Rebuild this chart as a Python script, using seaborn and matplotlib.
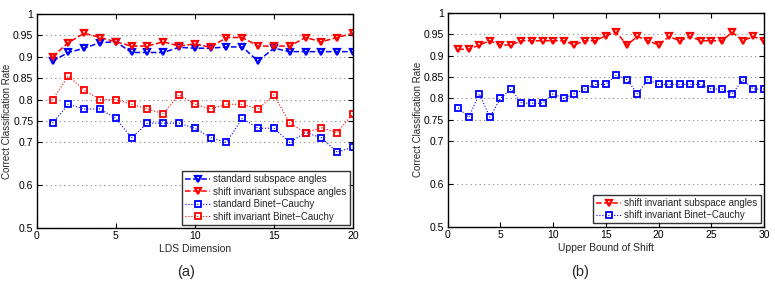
import numpy as np
import pandas as pd
import seaborn as sns
import matplotlib
matplotlib.use("Agg")
import matplotlib.pyplot as plt

# (a) classification rate vs. LDS dimension
lds_dim = list(range(1, 21))
std_angles = [0.89, 0.91, 0.92, 0.933, 0.935, 0.91, 0.91, 0.91, 0.922, 0.92,
              0.92, 0.923, 0.923, 0.89, 0.92, 0.912, 0.912, 0.912, 0.912, 0.912]
si_angles = [0.90, 0.933, 0.955, 0.945, 0.935, 0.925, 0.925, 0.935, 0.925, 0.93,
             0.922, 0.945, 0.945, 0.925, 0.925, 0.925, 0.945, 0.935, 0.945, 0.955]
std_bc = [0.745, 0.789, 0.778, 0.778, 0.756, 0.711, 0.745, 0.745, 0.745, 0.733,
          0.711, 0.70, 0.756, 0.733, 0.733, 0.70, 0.723, 0.711, 0.677, 0.689]
si_bc = [0.80, 0.855, 0.822, 0.80, 0.80, 0.789, 0.778, 0.767, 0.811, 0.789,
         0.778, 0.789, 0.789, 0.778, 0.811, 0.745, 0.723, 0.734, 0.723, 0.767]

# (b) classification rate vs. upper bound of shift
shift_bound = list(range(1, 31))
si_angles_b = [0.915, 0.915, 0.925, 0.935, 0.925, 0.925, 0.935, 0.935, 0.935, 0.935,
               0.935, 0.925, 0.935, 0.935, 0.947, 0.955, 0.925, 0.945, 0.935, 0.925,
               0.945, 0.935, 0.945, 0.935, 0.935, 0.935, 0.955, 0.935, 0.945, 0.935]
si_bc_b = [0.778, 0.756, 0.811, 0.756, 0.80, 0.822, 0.789, 0.789, 0.789, 0.811,
           0.80, 0.811, 0.822, 0.833, 0.833, 0.855, 0.844, 0.811, 0.844, 0.833,
           0.833, 0.833, 0.833, 0.833, 0.822, 0.822, 0.811, 0.844, 0.822, 0.822]

yticks = [0.5, 0.6, 0.7, 0.75, 0.8, 0.85, 0.9, 0.95, 1]
yticklabels = ["0.5", "0.6", "0.7", "0.75", "0.8", "0.85", "0.9", "0.95", "1"]

sns.set_style("ticks")
plt.rcParams["font.family"] = ["Liberation Sans", "DejaVu Sans"]

fig = plt.figure(figsize=(7.75, 2.82), dpi=100)
ax1 = fig.add_axes([0.0474, 0.1915, 0.408, 0.759])
ax2 = fig.add_axes([0.5777, 0.196, 0.408, 0.758])

tri = dict(marker="v", markersize=5, markerfacecolor="none", markeredgewidth=1.6,
           linestyle="--", linewidth=1.1)
sq = dict(marker="s", markersize=4, markerfacecolor="none", markeredgewidth=1.3,
          linestyle=":", linewidth=0.8)

sns.lineplot(x=lds_dim, y=std_angles, ax=ax1, color="#0000ff", markeredgecolor="#0000ff",
             label="standard subspace angles", **tri)
sns.lineplot(x=lds_dim, y=si_angles, ax=ax1, color="#ff0000", markeredgecolor="#ff0000",
             label="shift invariant subspace angles", **tri)
sns.lineplot(x=lds_dim, y=std_bc, ax=ax1, color="#0000ff", markeredgecolor="#0000ff",
             label="standard Binet\u2212Cauchy", **sq)
sns.lineplot(x=lds_dim, y=si_bc, ax=ax1, color="#ff0000", markeredgecolor="#ff0000",
             label="shift invariant Binet\u2212Cauchy", **sq)

sns.lineplot(x=shift_bound, y=si_angles_b, ax=ax2, color="#ff0000", markeredgecolor="#ff0000",
             label="shift invariant subspace angles", **tri)
sns.lineplot(x=shift_bound, y=si_bc_b, ax=ax2, color="#0000ff", markeredgecolor="#0000ff",
             label="shift invariant Binet\u2212Cauchy", **sq)

for ax, xmax, xlab in [(ax1, 20, "LDS Dimension"), (ax2, 30, "Upper Bound of Shift")]:
    ax.set_xlim(0, xmax)
    ax.set_ylim(0.5, 1)
    ax.set_xticks(range(0, xmax + 1, 5))
    ax.set_yticks(yticks)
    ax.set_yticklabels(yticklabels)
    ax.yaxis.grid(True, linestyle=(0, (1, 3)), color="#888888", linewidth=0.8)
    ax.tick_params(direction="in", top=True, right=True, labelsize=7.5,
                   length=3.5, width=0.8, pad=2.5, colors="black")
    for s in ax.spines.values():
        s.set_linewidth(1.0)
        s.set_color("black")
        s.set_visible(True)
    ax.set_xlabel(xlab, fontsize=7.5, labelpad=2)
    ax.set_ylabel("Correct Classification Rate", fontsize=7, labelpad=1)

leg1 = ax1.legend(loc="lower right", fontsize=7, handlelength=2.6, handletextpad=0.3,
                  borderpad=0.3, labelspacing=0.25, frameon=True, fancybox=False,
                  edgecolor="black", borderaxespad=0.35)
leg1.get_frame().set_linewidth(1.0)
leg2 = ax2.legend(loc="lower right", fontsize=7, handlelength=2.6, handletextpad=0.3,
                  borderpad=0.3, labelspacing=0.25, frameon=True, fancybox=False,
                  edgecolor="black", borderaxespad=0.35)
leg2.get_frame().set_linewidth(1.0)

fig.text(186 / 775, 1 - 272 / 282, "(a)", fontsize=10.5, ha="center", va="center")
fig.text(580 / 775, 1 - 272 / 282, "(b)", fontsize=10.5, ha="center", va="center")

fig.savefig("out.png", dpi=100)
